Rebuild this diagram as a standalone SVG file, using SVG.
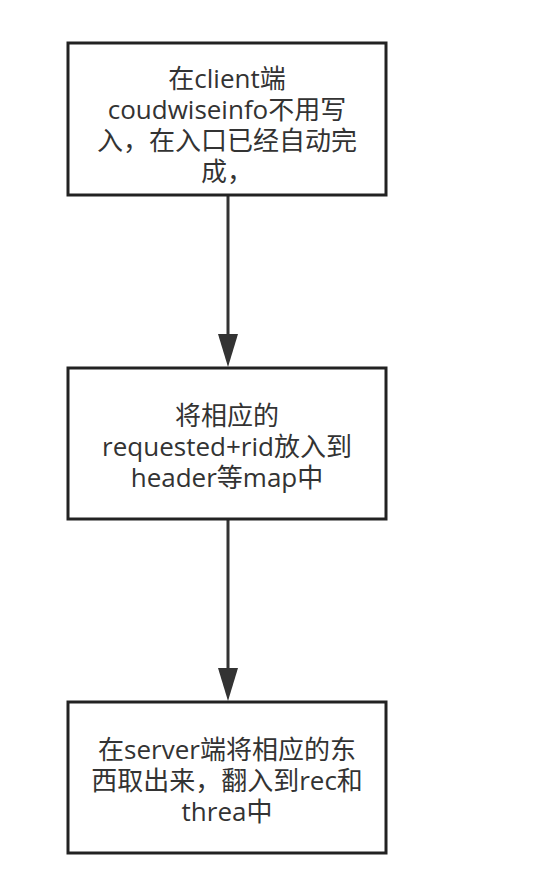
<svg xmlns="http://www.w3.org/2000/svg" width="536" height="878" viewBox="0 0 536 878">
<style>
.box{fill:#fff;stroke:#222;stroke-width:3}
.t{font-family:"Open Sans","Noto Sans CJK SC",sans-serif;font-size:26px;fill:#333;text-anchor:middle;dominant-baseline:central}
.c{stroke:#333;stroke-width:3;fill:none}
.ah{fill:#333}
</style>
<rect width="536" height="878" fill="#fff"/>
<g id="connectors">
<path class="c" d="M228,196 L228,334"/>
<path class="ah" d="M218,334 L238,334 L228,367 Z"/>
<path class="c" d="M228,519 L228,668"/>
<path class="ah" d="M218,668 L238,668 L228,701 Z"/>
</g>
<g id="n1">
<rect class="box" x="68" y="43" width="318" height="152"/>
<text class="t" x="227" y="78">在client端</text>
<text class="t" x="227" y="109">coudwiseinfo不用写</text>
<text class="t" x="227" y="140">入，在入口已经自动完</text>
<text class="t" x="227" y="171">成，</text>
</g>
<g id="n2">
<rect class="box" x="68" y="368" width="318" height="151"/>
<text class="t" x="227" y="415">将相应的</text>
<text class="t" x="227" y="446">requested+rid放入到</text>
<text class="t" x="227" y="477">header等map中</text>
</g>
<g id="n3">
<rect class="box" x="68" y="702" width="318" height="151"/>
<text class="t" x="227" y="749">在server端将相应的东</text>
<text class="t" x="227" y="780">西取出来，翻入到rec和</text>
<text class="t" x="227" y="811">threa中</text>
</g>
</svg>
